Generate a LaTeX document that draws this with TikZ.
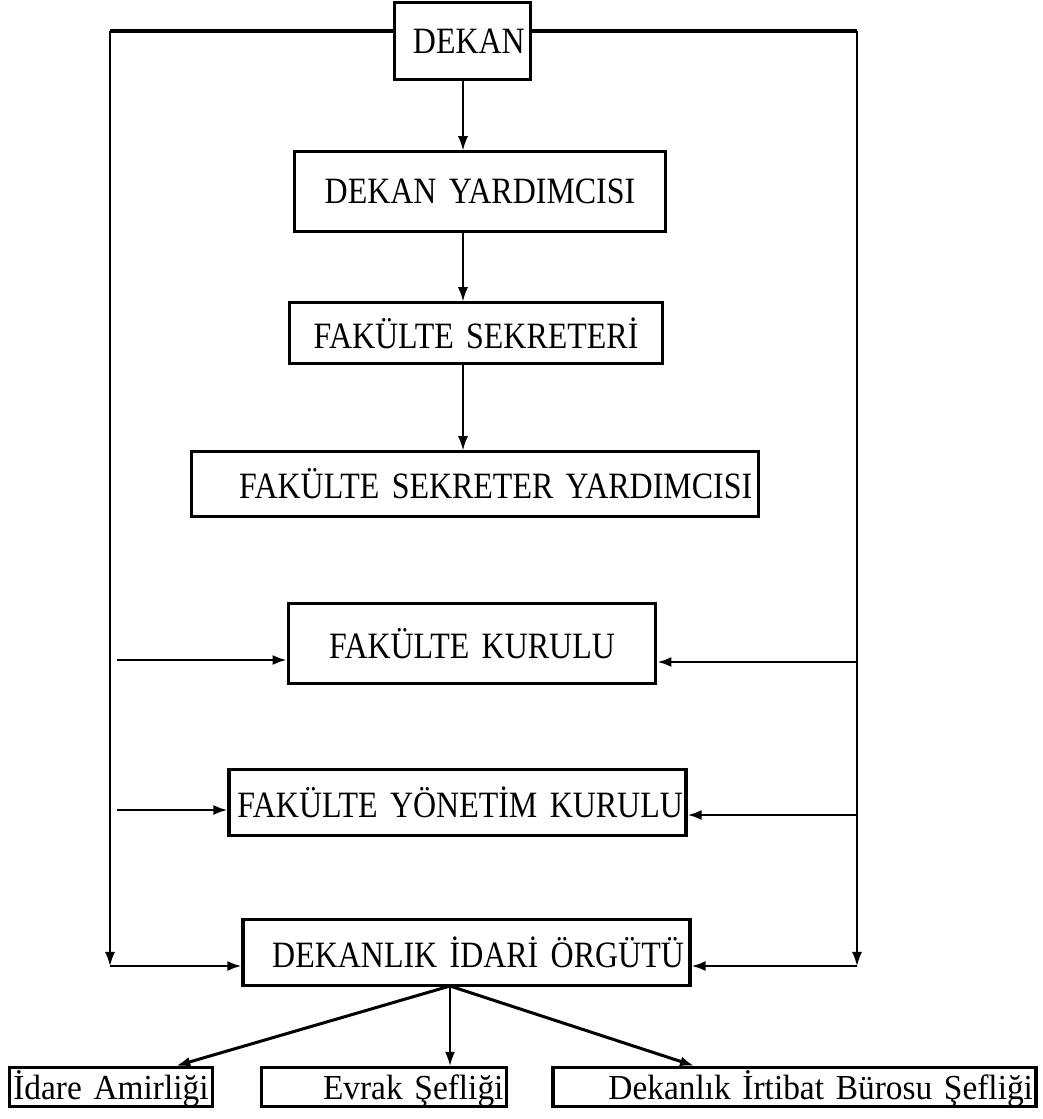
\documentclass[tikz,border=0pt]{standalone}
\usepackage{fontspec}
\setmainfont{Liberation Serif}[FakeStretch=0.86]
\newfontfamily\plainfont{Liberation Serif}[FakeStretch=0.95]
\usetikzlibrary{arrows.meta}

\begin{document}
\begin{tikzpicture}[
  x=.35mm, y=-.35mm,
  >={Latex[length=14pt,width=10pt]},
  font=\fontsize{37}{40}\selectfont,
  unit/.style={draw,line width=3.2pt,inner xsep=6pt,inner ysep=0pt},
  post/.style={unit,inner xsep=3pt,minimum height=39pt,text height=32pt,text depth=7pt,
    font=\plainfont\fontsize{35}{38}\selectfont},
  link/.style={->,line width=1.4pt},
  rail/.style={line width=1.7pt},
  feed/.style={->,line width=2.4pt},
  fan/.style={->,line width=3pt}
]
  \useasboundingbox (0,0) rectangle (1042,1119);

  % Management chain.
  \node[unit,minimum height=76pt,text width=124pt,align=right] (dekan) at (462.5,41) {DEKAN};
  \node[unit,minimum height=79pt,text width=358pt,align=center] (dy) at (480,191.5) {DEKAN YARDIMCISI};
  \node[unit,minimum height=60pt,text width=360pt,align=center] (fs) at (476,333) {FAKÜLTE SEKRETERİ};
  \node[unit,minimum height=64pt,text width=552pt,align=right] (fsy) at (475,484) {FAKÜLTE SEKRETER YARDIMCISI};
  \coordinate (spine) at (463,0);
  \draw[link] (spine |- dekan.south) -- (spine |- dy.north);
  \draw[link] (spine |- dy.south) -- (spine |- fs.north);
  \draw[link] (spine |- fs.south) -- (spine |- fsy.north);

  % Boards.
  \node[unit,minimum height=79pt,text width=354pt,align=center] (fk) at (472,643.5) {FAKÜLTE KURULU};
  \node[unit,inner xsep=3pt,minimum height=65pt,text width=449pt,align=right] (yk) at (457.5,802.5) {\mbox{FAKÜLTE YÖNETİM KURULU}};
  \node[unit,minimum height=65pt,text width=433pt,align=right] (dio) at (466.5,952.5) {DEKANLIK İDARİ ÖRGÜTÜ};

  % Side rails from the dean.
  \coordinate (nw) at (110,31);
  \coordinate (ne) at (857,31);
  \coordinate (sw) at (110,966);
  \coordinate (se) at (857,966);
  \draw[line width=3.2pt] (nw -| dekan.west) -- (nw);
  \draw[line width=3.2pt] (ne -| dekan.east) -- (ne);
  \draw[rail,->] (nw) -- (sw);
  \draw[rail,->] (ne) -- (se);
  \coordinate (fkl) at (117,660);
  \coordinate (fkr) at (857,662);
  \coordinate (ykl) at (117,810);
  \coordinate (ykr) at (857,815);
  \draw[feed] (fkl) -- (fkl -| fk.west);
  \draw[feed] (fkr) -- (fkr -| fk.east);
  \draw[feed] (ykl) -- (ykl -| yk.west);
  \draw[feed] (ykr) -- (ykr -| yk.east);
  \draw[feed] (sw) -- (sw -| dio.west);
  \draw[feed] (se) -- (se -| dio.east);

  % Offices.
  \node[post,text width=196pt,align=center] (idare) at (111,1087) {İdare Amirliği};
  \node[post,text width=238pt,align=right] (evrak) at (384,1087) {Evrak Şefliği};
  \node[post,text width=475pt,align=right] (irtibat) at (794.5,1087) {Dekanlık İrtibat Bürosu Şefliği};
  \coordinate (hub) at (450,986);
  \draw[fan] (hub) -- ([xshift=65pt]idare.north);
  \draw[link] (hub) -- (hub |- evrak.north);
  \draw[fan] (hub) -- ([xshift=-100pt]irtibat.north);
\end{tikzpicture}
\end{document}
